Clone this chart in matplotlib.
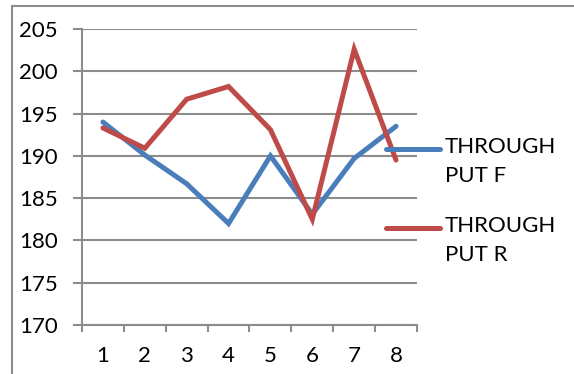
import matplotlib.pyplot as plt
from matplotlib.lines import Line2D
from matplotlib.patches import Rectangle

plt.rcParams['font.family'] = ['Lato', 'DejaVu Sans']

runs = [1, 2, 3, 4, 5, 6, 7, 8]
through_put_f = [194.0, 190.1, 186.7, 182.0, 190.0, 183.1, 189.7, 193.5]
through_put_r = [193.3, 190.9, 196.7, 198.2, 193.1, 182.5, 202.6, 189.5]
series_names = ['THROUGH\nPUT F', 'THROUGH\nPUT R']
colors = ['#4a7ebb', '#be4b48']

fig = plt.figure(figsize=(5.74, 3.74), dpi=100)
ax = fig.add_axes([82/574, 1-325/374, 335/574, 296/374])

xs = list(range(len(runs)))
for vals, c in zip([through_put_f, through_put_r], colors):
    ax.plot(xs, vals, color=c, lw=3.6, solid_capstyle='round', solid_joinstyle='miter', zorder=3)

ax.set_xlim(-0.5, len(runs) - 0.5)
ax.set_ylim(170, 205)
ax.set_yticks(range(170, 206, 5))
ax.set_xticks(xs)
ax.set_xticklabels([str(r) for r in runs])
ax.set_xticks([i - 0.5 for i in range(len(runs) + 1)], minor=True)

grid_c = '#8c8c8c'
ax.grid(axis='y', color=grid_c, lw=1.5)
ax.set_axisbelow(True)
for s in ['top', 'right']:
    ax.spines[s].set_visible(False)
ax.spines['left'].set_color(grid_c)
ax.spines['left'].set_linewidth(1.5)
ax.spines['bottom'].set_color(grid_c)
ax.spines['bottom'].set_linewidth(1.5)

fs = 16
ax.tick_params(axis='y', length=6.5, width=1.5, color=grid_c, pad=11, labelsize=fs)
ax.tick_params(axis='x', which='major', length=0, pad=15, labelsize=fs)
ax.tick_params(axis='x', which='minor', length=5, width=1.5, color=grid_c)

# legend drawn by hand, to the right of the plot
leg_y = [1-149/374, 1-228/374]
for name, c, y in zip(series_names, colors, leg_y):
    fig.add_artist(Line2D([386/574, 440/574], [y, y], color=c, lw=3.6,
                          solid_capstyle='round', transform=fig.transFigure))
    fig.text(445/574, y + 12/374, name, fontsize=fs, va='top', ha='left',
             linespacing=1.55)

# outer chart frame (left and top edges visible)
fig.add_artist(Rectangle((12/574, -0.1), 1.2, 1 - 6/374 + 0.1, fill=False,
                         edgecolor='#8c8c8c', lw=1.5, transform=fig.transFigure))

fig.savefig('out.png', dpi=100)
